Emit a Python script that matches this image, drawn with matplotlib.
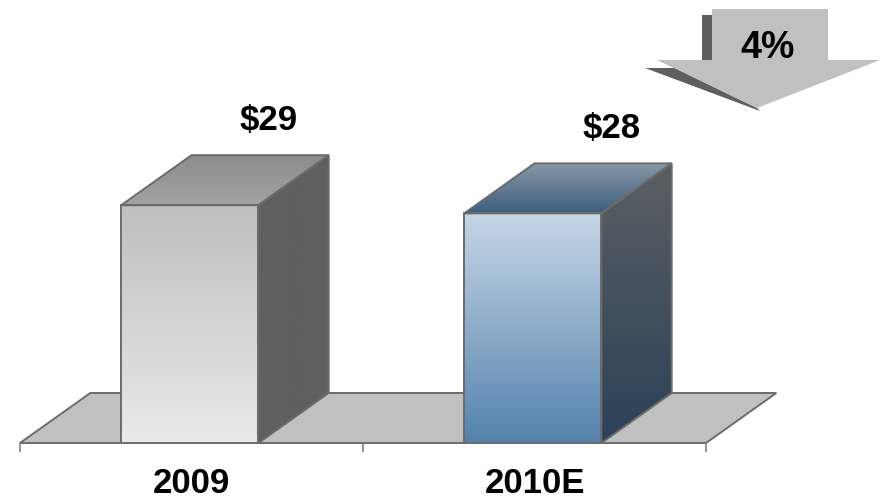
import matplotlib
matplotlib.use("Agg")
import matplotlib.pyplot as plt
import numpy as np
from matplotlib.patches import Polygon
from matplotlib.colors import LinearSegmentedColormap

categories = ["2009", "2010E"]
values = [29, 28]
value_labels = ["$29", "$28"]
change_label = "4%"

plt.rcParams["font.family"] = ["Liberation Sans", "DejaVu Sans"]

W, H = 881, 499
EDGE = "#6b6b6b"
BAR_W = 0.4           # bar width in category units
DEPTH_X = 0.205       # 3D depth offset, category units
DEPTH_Y = 6.1         # 3D depth offset, value units

# (front top, front bottom), (side top, side bottom), (top back, top front)
bar_colors = [
    (("#bfbfbf", "#e9e9e9"), ("#606060", "#606060"), ("#8c8c8c", "#a3a3a3")),
    (("#c6d6e6", "#5482ad"), ("#5b5f64", "#2c4158"), ("#8898a6", "#3e5f80")),
]

fig = plt.figure(figsize=(W / 100, H / 100), dpi=100)
ax = fig.add_axes([20 / W, 56 / H, 686 / W, 443 / H])
ax.set_xlim(0, len(categories))
ax.set_ylim(0, 443 / 8.2)


def gradient_face(verts, c_top, c_bottom, z):
    poly = Polygon(verts, closed=True, facecolor="none", edgecolor=EDGE,
                   lw=1.4, joinstyle="miter", zorder=z + 0.5)
    ax.add_patch(poly)
    xs, ys = zip(*verts)
    cmap = LinearSegmentedColormap.from_list("face", [c_bottom, c_top])
    grad = np.linspace(0, 1, 256).reshape(-1, 1)
    im = ax.imshow(grad, extent=[min(xs), max(xs), min(ys), max(ys)],
                   origin="lower", cmap=cmap, aspect="auto", zorder=z,
                   interpolation="bilinear")
    im.set_clip_path(poly)


# floor
n = len(categories)
floor = Polygon([(0, 0), (n, 0), (n + DEPTH_X, DEPTH_Y), (DEPTH_X, DEPTH_Y)],
                closed=True, facecolor="#c0c0c0", edgecolor=EDGE, lw=1.4,
                clip_on=False, zorder=1)
ax.add_patch(floor)

for i, (v, cols) in enumerate(zip(values, bar_colors)):
    x0 = i + 0.495 - BAR_W / 2
    x1 = i + 0.495 + BAR_W / 2
    front, side, top = cols
    gradient_face([(x0, 0), (x1, 0), (x1, v), (x0, v)], front[0], front[1], 3)
    gradient_face([(x1, 0), (x1 + DEPTH_X, DEPTH_Y), (x1 + DEPTH_X, v + DEPTH_Y), (x1, v)],
                  side[0], side[1], 3)
    gradient_face([(x0, v), (x1, v), (x1 + DEPTH_X, v + DEPTH_Y), (x0 + DEPTH_X, v + DEPTH_Y)],
                  top[0], top[1], 3)
    ax.text(i + 0.5 + 0.225, v + DEPTH_Y + 4.2, value_labels[i], ha="center",
            va="center", fontsize=25, fontweight="bold", zorder=6)
    ax.text(i + 0.5, -0.092, categories[i], transform=ax.get_xaxis_transform(),
            ha="center", va="center", fontsize=25, fontweight="bold")

for s in ax.spines.values():
    s.set_visible(False)
ax.set_yticks([])
ax.set_xticks(range(n + 1))
ax.set_xticklabels([])
ax.tick_params(axis="x", length=6.5, width=1.2, color="#808080")


# change arrow in the top right corner
def px(points):
    return [(x / W, 1 - y / H) for x, y in points]


shadow = [(702, 15), (712, 15), (712, 60), (658, 60), (757, 108), (760, 111),
          (645, 68), (702, 68)]
arrow = [(712, 9), (828, 9), (828, 60), (880, 60), (757, 108), (658, 60), (712, 60)]
fig.add_artist(Polygon(px(shadow), closed=True, facecolor="#5f5f5f",
                       edgecolor="none", transform=fig.transFigure))
fig.add_artist(Polygon(px(arrow), closed=True, facecolor="#c0c0c0",
                       edgecolor="none", transform=fig.transFigure))
fig.text(768 / W, 1 - 48 / H, change_label, ha="center", va="center",
         fontsize=27, fontweight="bold")

fig.savefig("out.png", dpi=100)
